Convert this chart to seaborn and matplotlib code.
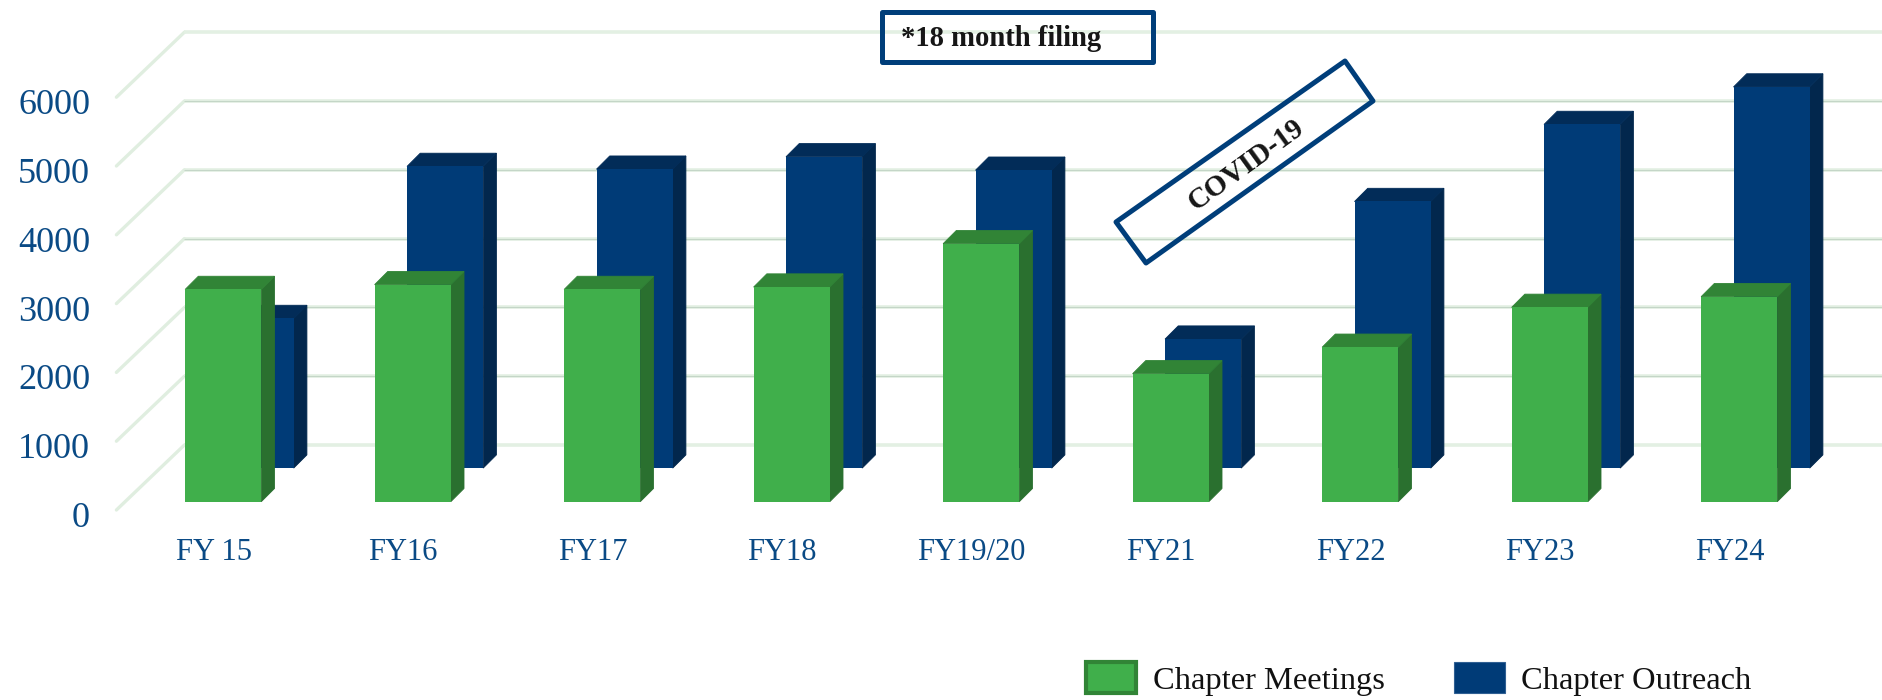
#!/usr/bin/env python3
"""Chapter meetings and outreach by fiscal year, pseudo 3D bars"""

import matplotlib
matplotlib.use("Agg")
import matplotlib.pyplot as plt
import pandas as pd
import seaborn as sns
from matplotlib.patches import ConnectionPatch, Patch, Polygon, FancyBboxPatch
from matplotlib.transforms import ScaledTranslation

years = ["FY 15", "FY16", "FY17", "FY18", "FY19/20", "FY21", "FY22", "FY23", "FY24"]
meetings = [3085, 3155, 3085, 3120, 3750, 1860, 2245, 2825, 2980]
outreach = [2175, 4385, 4345, 4525, 4330, 1875, 3875, 4995, 5540]
ticks = [0, 1000, 2000, 3000, 4000, 5000, 6000]

GREEN = ["#40AF4B", "#2A702F", "#318436"]   # front, side, top
BLUE = ["#003B77", "#02274D", "#022C58"]
TEXT_BLUE = "#0A4A85"
BOX_BLUE = "#003E7A"

W, H = 1882, 700
PX_PER_UNIT = 0.0688
SPACING = 189.5
LEFT, ZERO_Y = 116.4, 510
XLIM = (-0.513, 8.797)
DEPTH = 13.2

sns.set_style("white")
plt.rcParams["font.family"] = ["Liberation Serif", "DejaVu Serif"]

fig = plt.figure(figsize=(W / 100, H / 100), dpi=100)


def plane(dx, dy, zorder):
    # 同じスケールのaxesを奥行き分だけずらす
    ax = fig.add_axes([(LEFT + dx) / W, (H - ZERO_Y + dy) / H,
                       (XLIM[1] - XLIM[0]) * SPACING / W, 6000 * PX_PER_UNIT / H],
                      zorder=zorder)
    ax.patch.set_visible(False)
    sns.despine(ax=ax, left=True, bottom=True)
    ax.tick_params(length=0)
    return ax


def draw_bars(ax, values, colors):
    df = pd.DataFrame({"year": years, "value": values})
    sns.barplot(data=df, x="year", y="value", color=colors[0], saturation=1,
                width=0.402, ax=ax, linewidth=0, zorder=3)
    ax.set_xlim(*XLIM)
    ax.set_ylim(0, 6000)
    ax.set_xlabel("")
    ax.set_ylabel("")
    ax.set_xticks([])
    ax.set_yticks([])
    dx = DEPTH / SPACING
    dy = DEPTH / PX_PER_UNIT
    for bar in list(ax.patches):
        x0, x1 = bar.get_x(), bar.get_x() + bar.get_width()
        top = bar.get_height()
        side = [(x1, 0), (x1 + dx, dy), (x1 + dx, top + dy), (x1, top)]
        lid = [(x0, top), (x0 + dx, top + dy), (x1 + dx, top + dy), (x1, top)]
        ax.add_patch(Polygon(side, facecolor=colors[1], edgecolor=colors[1], lw=0.6,
                             clip_on=False, zorder=2))
        ax.add_patch(Polygon(lid, facecolor=colors[2], edgecolor=colors[2], lw=0.6,
                             clip_on=False, zorder=2))


# 背面のグリッド
ax_wall = plane(68, 65, 1)
ax_wall.set_xlim(*XLIM)
ax_wall.set_ylim(0, 6000)
ax_wall.set_xticks([])
ax_wall.set_yticks([])
ax_wall.hlines(ticks, XLIM[0], XLIM[1], color="#E3F0E3", lw=2.6, clip_on=False)
ax_wall.hlines(ticks[1:-1], XLIM[0], XLIM[1], color="#C4D6C7", lw=0.8, clip_on=False)

# 手前の軸(ラベルのみ)
ax_front = plane(0, 0, 2)
ax_front.set_xlim(*XLIM)
ax_front.set_ylim(0, 6000)
ax_front.set_xticks(range(len(years)), years)
ax_front.set_yticks(ticks, [str(t) for t in ticks])
ax_front.tick_params(axis="y", labelsize=26, labelcolor=TEXT_BLUE, pad=19)
ax_front.tick_params(axis="x", labelsize=22, labelcolor=TEXT_BLUE, pad=20.5)
shift = ScaledTranslation(0, -0.045, fig.dpi_scale_trans)
for lab in ax_front.get_yticklabels():
    lab.set_transform(lab.get_transform() + shift)
for t in ticks:
    con = ConnectionPatch((XLIM[0], t), (XLIM[0], t), coordsA=ax_front.transData,
                          coordsB=ax_wall.transData, color="#E0EEE0", lw=2.4)
    fig.add_artist(con)

ax_blue = plane(9.6 + 32.4, 8.3 + 33.6, 3)
draw_bars(ax_blue, outreach, BLUE)

ax_green = plane(9.6, 8.3, 4)
draw_bars(ax_green, meetings, GREEN)


# 注記の枠
def px(x, y):
    return x / W, 1 - y / H


x0, y0 = px(882, 62)
x1, y1 = px(1153, 12)
fig.add_artist(FancyBboxPatch((x0, y0), x1 - x0, y1 - y0, boxstyle="square,pad=0",
                              transform=fig.transFigure, fill=False, edgecolor=BOX_BLUE,
                              lw=3.6, joinstyle="round", zorder=10))
fig.text(*px(901, 38), "*18 month filing", fontsize=20.6, fontweight="bold",
         color="#161616", va="center", ha="left", zorder=11)

corners = [px(1345, 61), px(1373, 101), px(1146, 263), px(1116, 222)]
fig.add_artist(Polygon(corners, closed=True, transform=fig.transFigure, fill=False,
                       edgecolor=BOX_BLUE, lw=3.6, joinstyle="round", zorder=10))
fig.text(*px(1246, 165), "COVID-19", fontsize=21, fontweight="bold", color="#161616",
         rotation=36, rotation_mode="anchor", va="center", ha="center", zorder=11)

handles = [Patch(facecolor=GREEN[0], edgecolor=GREEN[2], lw=3, label="Chapter Meetings"),
           Patch(facecolor=BLUE[0], edgecolor="#2F5F92", lw=0.8, label="Chapter Outreach")]
fig.legend(handles=handles, ncol=2, frameon=False, fontsize=23.4, labelcolor="#111111",
           handlelength=1.55, handleheight=1.1, handletextpad=0.5, columnspacing=2.15,
           loc="center left", bbox_to_anchor=(1086 / W, 1 - 679 / H), borderpad=0,
           borderaxespad=0)

fig.savefig("out.png", dpi=100)
